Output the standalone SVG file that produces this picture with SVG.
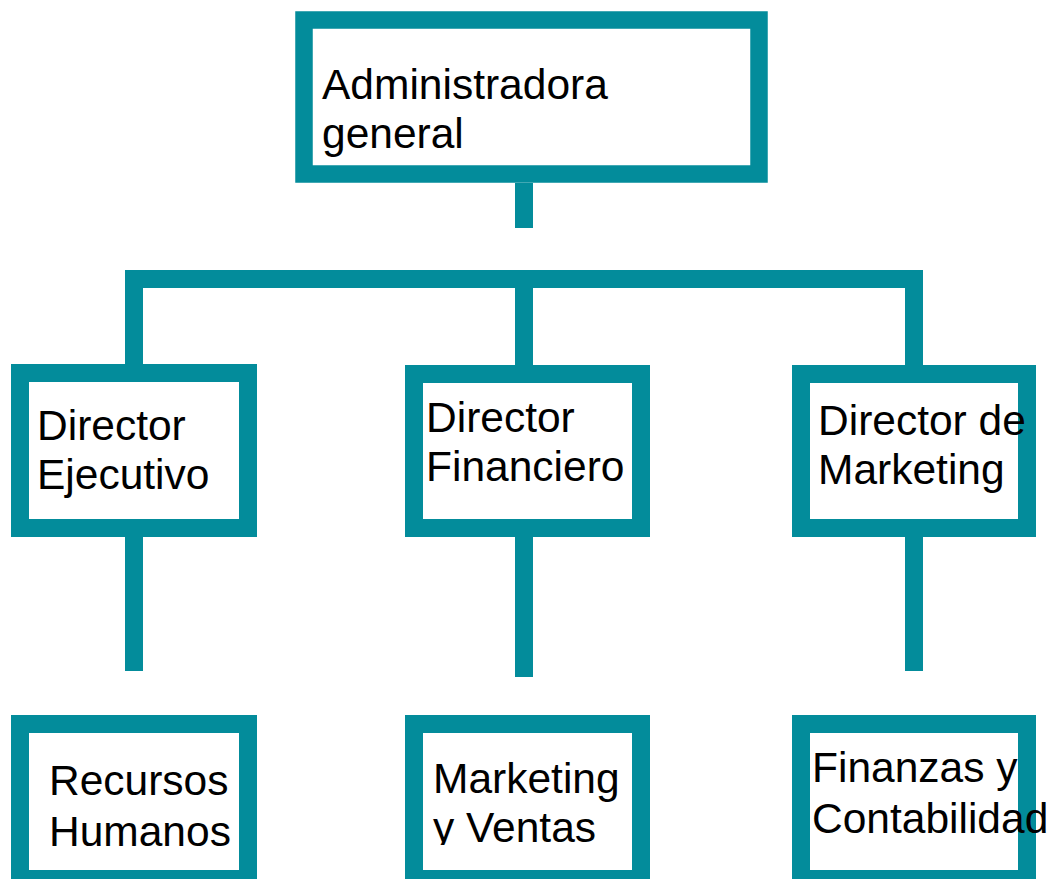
<svg xmlns="http://www.w3.org/2000/svg" width="1056" height="879" viewBox="0 0 1056 879">
<style>
.box{fill:#fff;stroke:#038C9B;stroke-width:18}
.con{fill:none;stroke:#038C9B;stroke-width:18;stroke-linejoin:miter;stroke-linecap:butt}
text{font-family:"Liberation Sans",Arial,sans-serif;font-size:42.5px;fill:#000}
</style>
<defs>
<clipPath id="clipMV"><rect x="0" y="0" width="1056" height="845"/></clipPath>
</defs>
<rect width="1056" height="879" fill="#fff"/>
<g id="connectors">
<path class="con" d="M524 183 V228"/>
<path class="con" d="M134 365 V279 H914 V365"/>
<path class="con" d="M524 279 V365"/>
<path class="con" d="M134 537 V671"/>
<path class="con" d="M524 537 V677"/>
<path class="con" d="M914 537 V671"/>
</g>
<g id="n-admin">
<rect class="box" x="304" y="20" width="455" height="154" style="stroke-width:17.5"/>
<text x="322" y="99">Administradora</text>
<text x="322" y="148">general</text>
</g>
<g id="n-ejecutivo">
<rect class="box" x="20" y="373" width="228" height="155"/>
<text x="37" y="440">Director</text>
<text x="37" y="489">Ejecutivo</text>
</g>
<g id="n-financiero">
<rect class="box" x="414" y="374" width="227" height="154"/>
<text x="426" y="432">Director</text>
<text x="426" y="481">Financiero</text>
</g>
<g id="n-marketing">
<rect class="box" x="801" y="374" width="226" height="154"/>
<text x="818" y="435">Director de</text>
<text x="818" y="484">Marketing</text>
</g>
<g id="n-rrhh">
<rect class="box" x="20" y="724" width="228" height="155"/>
<text x="49" y="795">Recursos</text>
<text x="49" y="846">Humanos</text>
</g>
<g id="n-mkv">
<rect class="box" x="414" y="724" width="227" height="155"/>
<g clip-path="url(#clipMV)">
<text x="433" y="793">Marketing</text>
<text x="433" y="842">y Ventas</text>
</g>
</g>
<g id="n-fin">
<rect class="box" x="801" y="724" width="226" height="155"/>
<text x="812" y="782">Finanzas y</text>
<text x="812" y="833">Contabilidad</text>
</g>
</svg>
